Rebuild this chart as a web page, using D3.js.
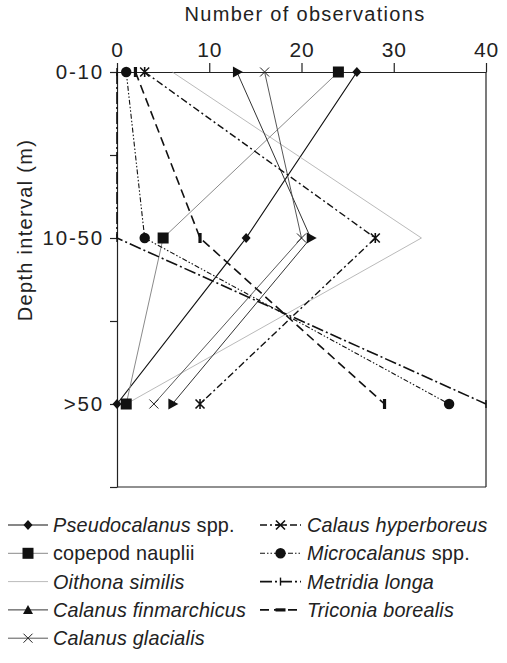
<!DOCTYPE html>
<html><head><meta charset="utf-8">
<script src="https://cdn.jsdelivr.net/npm/d3@7"></script>
<style>
body{margin:0;background:#fff;}
svg text{font-family:"Liberation Sans",Arial,Helvetica,sans-serif;fill:#222;}
</style></head>
<body><svg id="c" width="507" height="663"></svg>
<script>
const categories = ["0-10","10-50",">50"];
const xTicks = [0,10,20,30,40];
const seriesNames = ["Pseudocalanus spp.","copepod nauplii","Oithona similis","Calanus finmarchicus","Calanus glacialis","Calaus hyperboreus","Microcalanus spp.","Metridia longa","Triconia borealis"];
const pseudocalanus = [26,14,0];
const nauplii = [24,5,1];
const oithona = [6,33,1];
const finmarchicus = [13,21,6];
const glacialis = [16,20,4];
const hyperboreus = [3,28,9];
const microcalanus = [1,3,36];
const metridia = [0,0,40];
const triconia = [2,9,29];
const seriesValues = [pseudocalanus,nauplii,oithona,finmarchicus,glacialis,hyperboreus,microcalanus,metridia,triconia];

const styles = [
 {stroke:"#111",w:1.2,dash:null,m:"diamond"},
 {stroke:"#8a8a8a",w:1,dash:null,m:"square"},
 {stroke:"#a8a8a8",w:0.8,dash:null,m:null},
 {stroke:"#333",w:1,dash:null,m:"triangle"},
 {stroke:"#444",w:0.9,dash:null,m:"cross"},
 {stroke:"#111",w:1.4,dash:"7,3,2,3",m:"asterisk"},
 {stroke:"#111",w:1.1,dash:"5,2,1.5,2,1.5,2",m:"circle"},
 {stroke:"#111",w:1.6,dash:"12,3,2,3",m:"plus"},
 {stroke:"#111",w:1.6,dash:"9,5",m:"bar"}
];

const svg = d3.select("#c");
const x = d3.scaleLinear().domain([0,40]).range([117,486]);
const y = d3.scaleLinear().domain([0,2.5]).range([72,487]);

// frame
svg.append("line").attr("x1",x(40)).attr("x2",x(40)).attr("y1",y(0)).attr("y2",y(2.5)).attr("stroke","#222").attr("stroke-width",1.2);
svg.append("line").attr("x1",x(0)).attr("x2",x(40)).attr("y1",y(2.5)).attr("y2",y(2.5)).attr("stroke","#222").attr("stroke-width",1.2);

// top axis
const topAxis = svg.append("g").attr("transform",`translate(0,${y(0)})`)
  .call(d3.axisTop(x).tickValues(xTicks).tickSize(9).tickSizeOuter(0).tickPadding(6));
topAxis.selectAll("path,line").attr("stroke","#222").attr("stroke-width",1.2);
topAxis.selectAll("text").style("font-size","21px").style("letter-spacing","0.8px").attr("fill","#222").style("font-family",'"Liberation Sans",Arial,sans-serif');

// left axis
const leftAxis = svg.append("g").attr("transform",`translate(${x(0)},0)`)
  .call(d3.axisLeft(y).tickValues([0,0.5,1,1.5,2,2.5]).tickSize(7).tickSizeOuter(0)
  .tickFormat(d=> Number.isInteger(d) ? categories[d] : ""));
leftAxis.selectAll("path,line").attr("stroke","#222").attr("stroke-width",1.2);
leftAxis.selectAll("text").style("font-size","20.5px").style("letter-spacing","1.8px").attr("fill","#222").attr("dx","-3").style("font-family",'"Liberation Sans",Arial,sans-serif');

// titles
svg.append("text").attr("x",305).attr("y",21).attr("text-anchor","middle").style("font-size","20px").style("letter-spacing","1.3px").text("Number  of observations");
svg.append("text").attr("transform","translate(32,230) rotate(-90)").attr("text-anchor","middle").style("font-size","20px").style("letter-spacing","1.3px").text("Depth  interval  (m)");

function marker(g, type, legend){
  if(!type) return;
  if(type==="diamond") g.append("path").attr("d","M0,-5L4.5,0L0,5L-4.5,0Z").attr("fill","#111");
  else if(type==="square") g.append("rect").attr("x",-5.5).attr("y",-5.5).attr("width",11).attr("height",11).attr("fill","#111");
  else if(type==="triangle") g.append("path").attr("d", legend ? "M-5,4L5,4L0,-5Z" : "M-4,-5.5L6,0L-4,5.5Z").attr("fill","#111");
  else if(type==="cross") g.append("path").attr("d","M-4.5,-4.5L4.5,4.5M-4.5,4.5L4.5,-4.5").attr("stroke","#222").attr("stroke-width",1).attr("fill","none");
  else if(type==="asterisk") g.append("path").attr("d", legend ? "M-4.5,-4.5L4.5,4.5M-4.5,4.5L4.5,-4.5M-5,0L5,0" : "M-4.5,-4.5L4.5,4.5M-4.5,4.5L4.5,-4.5M0,-5L0,5").attr("stroke","#111").attr("stroke-width",1.6).attr("fill","none");
  else if(type==="circle") g.append("circle").attr("r",5.2).attr("fill","#111");
  else if(type==="plus") g.append("path").attr("d", "M0,-4L0,4").attr("stroke","#111").attr("stroke-width",1.4);
  else if(type==="bar") g.append("rect").attr("x", legend?-5:-1.6).attr("y", legend?-1.6:-5).attr("width", legend?10:3.2).attr("height", legend?3.2:10).attr("fill","#111");
}

const line = d3.line().x(d=>x(d.v)).y(d=>y(d.i));
seriesValues.forEach((vals,k)=>{
  const st = styles[k];
  const pts = vals.map((v,i)=>({v,i}));
  svg.append("path").datum(pts).attr("d",line).attr("fill","none")
    .attr("stroke",st.stroke).attr("stroke-width",st.w).attr("stroke-dasharray",st.dash);
});
seriesValues.forEach((vals,k)=>{
  const st = styles[k];
  vals.forEach((v,i)=>{
    marker(svg.append("g").attr("transform",`translate(${x(v)},${y(i)})`), st.m, false);
  });
});

// legend
const legY0 = 525, legDY = 28.3;
seriesNames.forEach((name,k)=>{
  const st = styles[k];
  const col = k<5 ? 0 : 1;
  const row = k<5 ? k : k-5;
  const lx0 = col===0 ? 8 : 260, lx1 = col===0 ? 48 : 301, tx = col===0 ? 53 : 307;
  const ly = legY0 + row*legDY;
  svg.append("line").attr("x1",lx0).attr("x2",lx1).attr("y1",ly).attr("y2",ly)
    .attr("stroke",st.stroke).attr("stroke-width",st.w).attr("stroke-dasharray",st.dash);
  marker(svg.append("g").attr("transform",`translate(${(lx0+lx1)/2},${ly})`), st.m, true);
  const t = svg.append("text").attr("x",tx).attr("y",ly+7).style("font-size","19.8px").style("letter-spacing","0.2px");
  const parts = name.endsWith(" spp.") ? [[name.slice(0,-5),true],[" spp.",false]]
              : name==="copepod nauplii" ? [[name,false]] : [[name,true]];
  parts.forEach(p=>t.append("tspan").style("font-style",p[1]?"italic":"normal").text(p[0]));
});
</script></body></html>
